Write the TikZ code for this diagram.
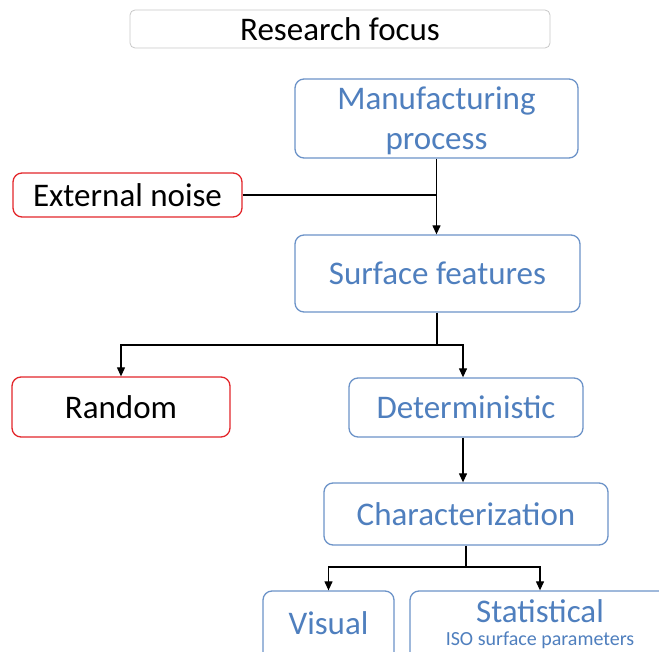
\documentclass[tikz,border=0pt]{standalone}
\usepackage{fontspec}
\setmainfont{Carlito}
\usetikzlibrary{arrows.meta}
\definecolor{boxblue}{HTML}{6C93C8}
\definecolor{txtblue}{HTML}{4F7FBE}
\definecolor{boxred}{HTML}{E3262B}
\definecolor{boxgray}{HTML}{C8C8C8}
\tikzset{
  x=1pt, y=-1pt,
  bigtext/.style={font=\fontsize{33}{40}\selectfont},
  base/.style={rounded corners=9pt, line width=1.3pt, inner sep=0pt, fill=white, bigtext, align=center},
  bluebox/.style={base, draw=boxblue, text=txtblue},
  redbox/.style={base, draw=boxred, text=black},
  titlebox/.style={rounded corners=5pt, draw=boxgray, line width=0.8pt, fill=white, bigtext, inner sep=0pt},
  link/.style={line width=1.2pt, draw=black},
  arr/.style={link, -{Triangle[length=9pt,width=8pt]}}
}
\begin{document}
\begin{tikzpicture}
\useasboundingbox (0,0) rectangle (659,652);
\clip (0,0) rectangle (659,652);
% title bar
\node[titlebox, minimum width=420pt, minimum height=38pt] (title) at (340,29) {Research focus};
% process chain
\node[bluebox, minimum width=283pt, minimum height=79pt] (mp) at (436.5,118.5) {};
\node[bigtext, text=txtblue, align=center] (mptext) at (436.5,120.5) {Manufacturing\\process};
\node[redbox, minimum width=229pt, minimum height=44pt] (noise) at (127.5,195) {External noise};
\node[bluebox, minimum width=285pt, minimum height=77pt] (sf) at (437.5,273.5) {Surface features};
\node[redbox, minimum width=218pt, minimum height=60pt] (rand) at (121,407) {Random};
\node[bluebox, minimum width=234pt, minimum height=59pt] (det) at (466,407.5) {Deterministic};
\node[bluebox, minimum width=284pt, minimum height=62pt] (char) at (466,514) {Characterization};
% characterization methods (run off the lower edge)
\node[bluebox, minimum width=131pt, minimum height=80pt] (visbox) at (328.5,631) {};
\node[bigtext, text=txtblue] (vis) at (328.5,623) {Visual};
\node[bluebox, minimum width=270pt, minimum height=80pt] (statbox) at (545,631) {};
\node[bigtext, text=txtblue] (stat) at (540,611) {Statistical};
\node[text=txtblue, font=\fontsize{20}{24}\selectfont] (iso) at (540,640) {ISO surface parameters};
% connectors
\coordinate (nj) at (mp.south |- noise.east);
\draw[arr] (mp.south) -- (mp.south |- sf.north);
\draw[link] (noise.east) -- (nj);
\coordinate (j1) at (437,345);
\draw[link] (j1 |- sf.south) -- (j1);
\draw[arr] (j1) -| (rand.north);
\draw[arr] (j1) -| ([xshift=-3pt]det.north);
\draw[arr] ([xshift=-3pt]det.south) -- ([xshift=-3pt]det.south |- char.north);
\coordinate (j2) at (466,567);
\draw[link] (char.south) -- (j2);
\draw[arr] (j2) -| (vis |- visbox.north);
\draw[arr] (j2) -| (stat |- statbox.north);
\end{tikzpicture}
\end{document}
